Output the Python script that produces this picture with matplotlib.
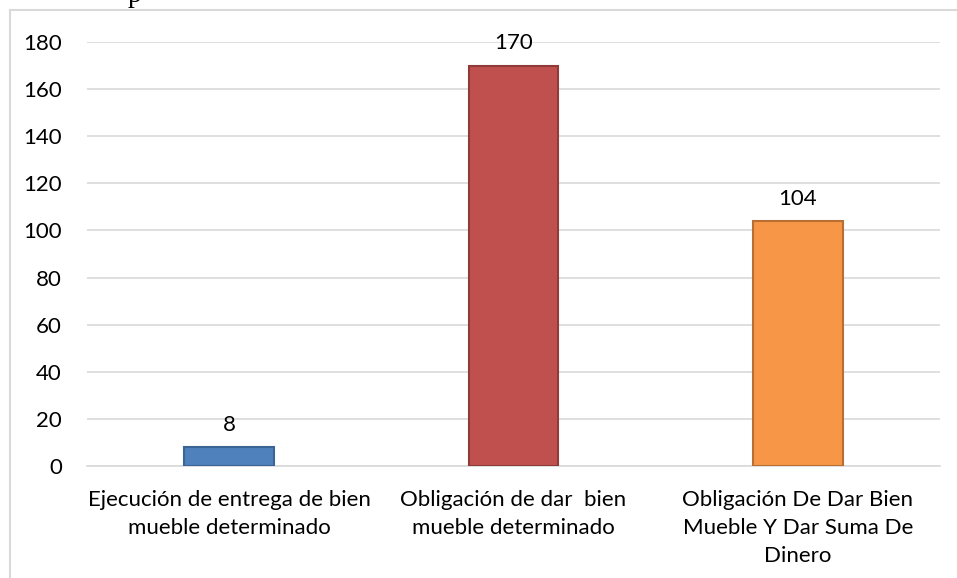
import matplotlib.pyplot as plt
from matplotlib.lines import Line2D

# Data
categories = ['Ejecución de entrega de bien\nmueble determinado',
              'Obligación de dar  bien\nmueble determinado',
              'Obligación De Dar Bien\nMueble Y Dar Suma De\nDinero']
values = [8, 170, 104]
colors = ['#4F81BD', '#C0504D', '#F79646']
edges = ['#3A6595', '#8E3B39', '#B86F34']

plt.rcParams['font.family'] = ['Lato', 'DejaVu Sans']

fig = plt.figure(figsize=(9.57, 5.78), dpi=100)
ax = fig.add_axes([87 / 957, 1 - 466 / 578, (940 - 87) / 957, (466 - 42) / 578])

x = range(len(values))
bars = ax.bar(x, values, width=0.316, color=colors, edgecolor=edges, linewidth=1.5, zorder=3)
for b, v in zip(bars, values):
    ax.annotate(str(v), (b.get_x() + b.get_width() / 2, v), xytext=(0, 9),
                textcoords='offset points', ha='center', va='bottom', fontsize=16)

ax.set_xlim(-0.5, 2.5)
ax.set_ylim(0, 180)
ax.set_yticks(range(0, 181, 20))
ax.set_xticks(list(x))
ax.set_xticklabels(categories, fontsize=16, linespacing=1.5)
ax.tick_params(axis='both', length=0, labelsize=16)
ax.tick_params(axis='y', pad=18)
ax.tick_params(axis='x', pad=17)
ax.yaxis.grid(True, color='#D9D9D9', linewidth=1.2, zorder=0)
for s in ['top', 'right', 'left']:
    ax.spines[s].set_visible(False)
ax.spines['bottom'].set_color('#D9D9D9')
ax.spines['bottom'].set_linewidth(1.2)

# outer chart frame
fig.add_artist(Line2D([10 / 957, 10 / 957], [0, 1 - 10 / 578], transform=fig.transFigure, color='#D9D9D9', lw=1.5))
fig.add_artist(Line2D([10 / 957, 1], [1 - 10 / 578, 1 - 10 / 578], transform=fig.transFigure, color='#D9D9D9', lw=1.5))

# cut-off title descender at the top
fig.text(135 / 957, 1 + 4 / 578, 'p', family='Liberation Serif', fontsize=20, ha='center', va='center')

fig.savefig('out.png', dpi=100)
